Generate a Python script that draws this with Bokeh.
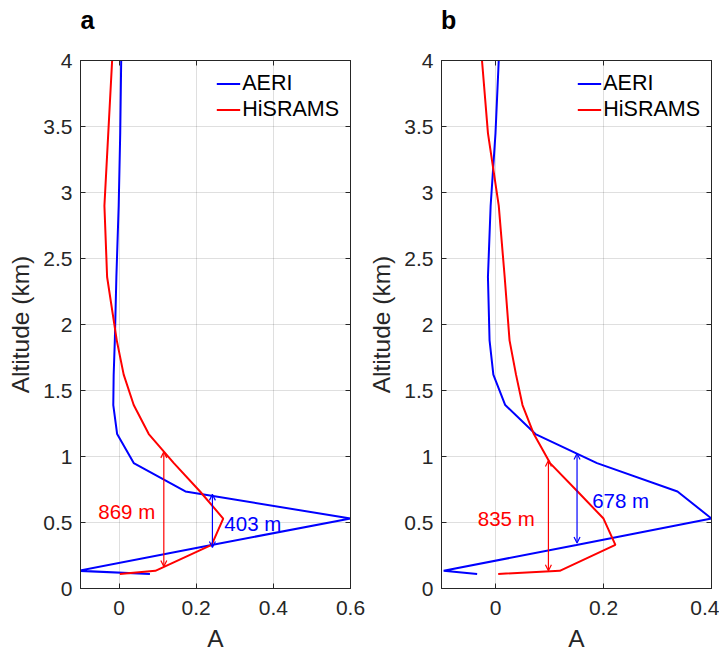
from bokeh.plotting import figure
from bokeh.models import (Arrow, OpenHead, Label, Legend, LegendItem, LinearAxis,
                          Range1d, FixedTicker)
from bokeh.layouts import row
from bokeh.embed import file_html
from bokeh.resources import INLINE

# ---------------- data ----------------
alt_km = [0.11, 0.134, 0.33, 0.53, 0.735, 0.95, 1.17, 1.39, 1.62, 1.88, 2.36, 2.9, 3.45, 4.0]

a_aeri = [0.08, -0.105, 0.24, 0.60, 0.172, 0.038, -0.005, -0.015, -0.014, -0.011, -0.007, -0.001, 0.003, 0.0055]
a_hisrams = [0.002, 0.094, 0.24, 0.27, 0.21, 0.142, 0.077, 0.038, 0.012, -0.006, -0.031, -0.038, -0.028, -0.018]

b_aeri = [-0.034, -0.096, 0.15, 0.40, 0.337, 0.188, 0.074, 0.018, -0.004, -0.011, -0.014, -0.009, 0.0, 0.006]
b_hisrams = [0.005, 0.119, 0.222, 0.20, 0.152, 0.101, 0.071, 0.05, 0.038, 0.026, 0.017, 0.006, -0.014, -0.025]

# depth arrows: [x, y_bottom, y_top]
a_red_arrow = [0.116, 0.166, 1.035]
a_blue_arrow = [0.242, 0.31, 0.713]
b_red_arrow = [0.098, 0.135, 0.97]
b_blue_arrow = [0.151, 0.344, 1.022]

# labels: [text, x, y, align]
a_red_label = ["869 m", 0.02, 0.585, "center"]
a_blue_label = ["403 m", 0.273, 0.495, "left"]
b_red_label = ["835 m", 0.02, 0.534, "center"]
b_blue_label = ["678 m", 0.179, 0.668, "left"]

# panel letters: [text, x position (data units, top edge)]
a_letter = ["a", -0.082]
b_letter = ["b", -0.087]

y_ticks = [0, 0.5, 1, 1.5, 2, 2.5, 3, 3.5, 4]
a_x_ticks = [0, 0.2, 0.4, 0.6]
b_x_ticks = [0, 0.2, 0.4]

FONT = "Liberation Sans"
AX = "#262626"
BLUE = "#0000ff"
RED = "#ff0000"
FRAME_W, FRAME_H = 270, 528


def make_panel(letter, xr, xticks, aeri, his, red_arrow, blue_arrow, red_lab, blue_lab,
               b_left, b_right):
    p = figure(frame_width=FRAME_W, frame_height=FRAME_H, x_range=Range1d(*xr), y_range=Range1d(0, 4),
               output_backend="svg", toolbar_location=None,
               min_border_left=b_left, min_border_right=b_right,
               min_border_top=60, min_border_bottom=60)
    p.outline_line_color = AX
    p.outline_line_width = 1
    p.background_fill_color = "white"
    p.border_fill_color = "white"

    p.xaxis.ticker = FixedTicker(ticks=xticks)
    p.yaxis.ticker = FixedTicker(ticks=y_ticks)
    p.xaxis.axis_label = "A"
    p.yaxis.axis_label = "Altitude (km)"
    for ax in (p.xaxis[0], p.yaxis[0]):
        ax.axis_line_color = AX
        ax.major_tick_line_color = AX
        ax.major_tick_in = 5
        ax.major_tick_out = 0
        ax.minor_tick_line_color = None
        ax.major_label_text_font = FONT
        ax.major_label_text_font_size = "21px"
        ax.major_label_text_color = AX
        ax.axis_label_text_font = FONT
        ax.axis_label_text_font_size = "24.5px"
        ax.axis_label_text_font_style = "normal"
        ax.axis_label_text_color = AX
    p.xaxis.major_label_standoff = 12
    p.yaxis.major_label_standoff = 8
    p.xaxis.axis_label_standoff = 7
    p.yaxis.axis_label_standoff = 6

    # mirrored ticks on top/right (MATLAB box style)
    for loc in ("right", "above"):
        ax = LinearAxis(ticker=FixedTicker(ticks=y_ticks if loc == "right" else xticks))
        ax.major_label_text_color = None
        ax.major_label_text_font_size = "1px"
        ax.major_label_standoff = 0
        ax.axis_line_color = AX
        ax.major_tick_line_color = AX
        ax.major_tick_in = 5
        ax.major_tick_out = 0
        ax.minor_tick_line_color = None
        p.add_layout(ax, loc)

    # panel letter as the single label of an outer top axis
    tax = LinearAxis(ticker=FixedTicker(ticks=[letter[1]]),
                     major_label_overrides={letter[1]: letter[0]})
    tax.axis_line_color = None
    tax.major_tick_line_color = None
    tax.minor_tick_line_color = None
    tax.major_tick_out = 0
    tax.major_tick_in = 0
    tax.major_label_standoff = 27
    tax.major_label_text_font = FONT
    tax.major_label_text_font_size = "25px"
    tax.major_label_text_font_style = "bold"
    tax.major_label_text_color = "black"
    p.add_layout(tax, "above")

    p.grid.grid_line_color = AX
    p.grid.grid_line_alpha = 0.15
    p.xgrid.ticker = FixedTicker(ticks=xticks)
    p.ygrid.ticker = FixedTicker(ticks=y_ticks)

    r1 = p.line(aeri, alt_km, line_color=BLUE, line_width=2)
    r2 = p.line(his, alt_km, line_color=RED, line_width=2)

    for arr, col in ((red_arrow, RED), (blue_arrow, BLUE)):
        p.add_layout(Arrow(x_start=arr[0], y_start=arr[1], x_end=arr[0], y_end=arr[2],
                           line_color=col, line_width=1.2,
                           start=OpenHead(size=6, line_color=col, line_width=1.2),
                           end=OpenHead(size=6, line_color=col, line_width=1.2)))
    for lab, col in ((red_lab, RED), (blue_lab, BLUE)):
        p.add_layout(Label(text=lab[0], x=lab[1], y=lab[2], text_align=lab[3],
                           text_baseline="middle", text_color=col, text_font=FONT,
                           text_font_size="20.5px"))

    leg = Legend(items=[LegendItem(label="AERI", renderers=[r1]),
                        LegendItem(label="HiSRAMS", renderers=[r2])],
                 location="top_right")
    leg.border_line_color = None
    leg.background_fill_alpha = 0
    leg.label_text_font = FONT
    leg.label_text_font_size = "21.5px"
    leg.label_text_color = "black"
    leg.glyph_width = 24
    leg.glyph_height = 21
    leg.label_height = 21
    leg.spacing = 1
    leg.label_standoff = 2
    leg.padding = 4
    leg.margin = 11
    p.add_layout(leg)
    return p


pa = make_panel(a_letter, (-0.1, 0.6), a_x_ticks, a_aeri, a_hisrams, a_red_arrow, a_blue_arrow,
                a_red_label, a_blue_label, 80, 15)
pb = make_panel(b_letter, (-0.1, 0.4), b_x_ticks, b_aeri, b_hisrams, b_red_arrow, b_blue_arrow,
                b_red_label, b_blue_label, 70, 8)

layout = row(pa, pb)
open("out.html", "w").write(file_html(layout, INLINE))
